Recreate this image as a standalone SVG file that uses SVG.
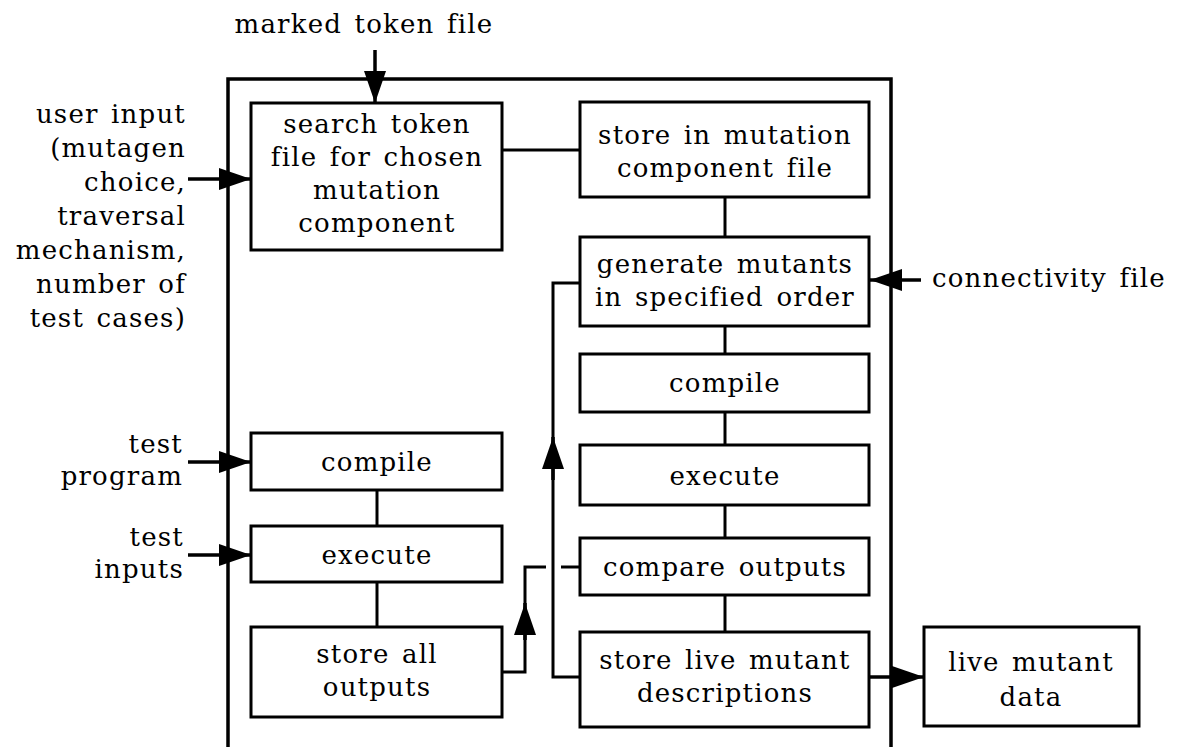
<svg xmlns="http://www.w3.org/2000/svg" width="1182" height="747" viewBox="0 0 1182 747">
<style>
  .box{fill:#fff;stroke:#000;stroke-width:3}
  .ln{fill:none;stroke:#000;stroke-width:3}
  .arr{fill:none;stroke:#000;stroke-width:3.5;marker-end:url(#ah)}
  text{font-family:"DejaVu Serif","Liberation Serif",serif;font-size:26px;letter-spacing:1.2px;word-spacing:3px;fill:#000}
  .c{text-anchor:middle}
  .r{text-anchor:end}
</style>
<defs>
  <marker id="ah" viewBox="0 0 32 22" refX="32" refY="11" markerWidth="32" markerHeight="22" markerUnits="userSpaceOnUse" orient="auto">
    <path d="M0,0 L32,11 L0,22 Z" fill="#000"/>
  </marker>
</defs>
<rect width="1182" height="747" fill="#fff"/>
<g id="frame"><path class="ln" style="stroke-width:3.5" d="M228,747 V79 H891 V747"/></g>
<g id="connectors">
  <line class="arr" x1="375" y1="50" x2="375" y2="103"/>
  <line class="arr" x1="188" y1="179" x2="251" y2="179"/>
  <line class="arr" x1="188" y1="462" x2="251" y2="462"/>
  <line class="arr" x1="188" y1="555" x2="251" y2="555"/>
  <line class="arr" x1="921" y1="280" x2="870" y2="280"/>
  <line class="arr" x1="869" y1="677" x2="924" y2="677"/>
  <line class="ln" x1="502" y1="150" x2="580" y2="150"/>
  <line class="ln" x1="725" y1="197" x2="725" y2="237"/>
  <line class="ln" x1="725" y1="326" x2="725" y2="354"/>
  <line class="ln" x1="725" y1="412" x2="725" y2="445"/>
  <line class="ln" x1="725" y1="505" x2="725" y2="538"/>
  <line class="ln" x1="725" y1="595" x2="725" y2="632"/>
  <line class="ln" x1="377" y1="490" x2="377" y2="526"/>
  <line class="ln" x1="377" y1="582" x2="377" y2="627"/>
  <path class="ln" d="M580,677 H553 V283 H580"/>
  <line class="arr" x1="553" y1="480" x2="553" y2="437"/>
  <path class="ln" d="M502,672 H525 V567 H546"/>
  <line class="arr" x1="525" y1="640" x2="525" y2="603"/>
  <line class="ln" x1="561" y1="567" x2="580" y2="567"/>
</g>
<g id="n-search"><rect class="box" x="251" y="103" width="251" height="147"/>
  <text class="c" x="377" y="133">search token</text><text class="c" x="377" y="166">file for chosen</text><text class="c" x="377" y="199">mutation</text><text class="c" x="377" y="232">component</text></g>
<g id="n-store-comp"><rect class="box" x="580" y="102" width="289" height="95"/>
  <text class="c" x="725" y="144">store in mutation</text><text class="c" x="725" y="177">component file</text></g>
<g id="n-generate"><rect class="box" x="580" y="237" width="289" height="89"/>
  <text class="c" x="725" y="273">generate mutants</text><text class="c" x="725" y="306">in specified order</text></g>
<g id="n-compile-r"><rect class="box" x="580" y="354" width="289" height="58"/>
  <text class="c" x="725" y="392">compile</text></g>
<g id="n-execute-r"><rect class="box" x="580" y="445" width="289" height="60"/>
  <text class="c" x="725" y="485">execute</text></g>
<g id="n-compare"><rect class="box" x="580" y="538" width="289" height="57"/>
  <text class="c" x="725" y="576">compare outputs</text></g>
<g id="n-store-live"><rect class="box" x="580" y="632" width="289" height="95"/>
  <text class="c" x="725" y="669">store live mutant</text><text class="c" x="725" y="702">descriptions</text></g>
<g id="n-live-data"><rect class="box" x="924" y="627" width="215" height="99"/>
  <text class="c" x="1031" y="671">live mutant</text><text class="c" x="1031" y="706">data</text></g>
<g id="n-compile-l"><rect class="box" x="251" y="433" width="251" height="57"/>
  <text class="c" x="377" y="471">compile</text></g>
<g id="n-execute-l"><rect class="box" x="251" y="526" width="251" height="56"/>
  <text class="c" x="377" y="564">execute</text></g>
<g id="n-store-all"><rect class="box" x="251" y="627" width="251" height="90"/>
  <text class="c" x="377" y="663">store all</text><text class="c" x="377" y="696">outputs</text></g>
<g id="labels">
  <text class="c" x="364" y="33">marked token file</text>
  <text class="r" x="186" y="123">user input</text>
  <text class="r" x="186" y="157">(mutagen</text>
  <text class="r" x="186" y="191">choice,</text>
  <text class="r" x="186" y="225">traversal</text>
  <text class="r" x="186" y="259">mechanism,</text>
  <text class="r" x="186" y="293">number of</text>
  <text class="r" x="186" y="327">test cases)</text>
  <text class="r" x="183" y="453">test</text>
  <text class="r" x="183" y="485">program</text>
  <text class="r" x="184" y="546">test</text>
  <text class="r" x="184" y="578">inputs</text>
  <text x="932" y="287">connectivity file</text>
</g>
</svg>
